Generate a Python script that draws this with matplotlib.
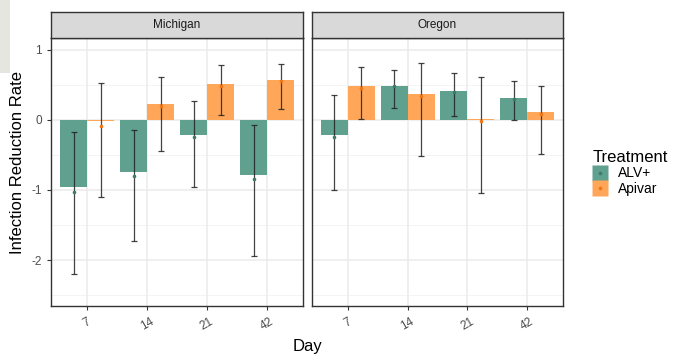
import numpy as np
import matplotlib.pyplot as plt
from matplotlib.patches import Rectangle
from matplotlib.lines import Line2D

plt.rcParams['font.family'] = ['Liberation Sans', 'DejaVu Sans']

days = ['7', '14', '21', '42']
states = ['Michigan', 'Oregon']
treatments = ['ALV+', 'Apivar']

# bar heights
bar_vals = {
    ('Michigan', 'ALV+'): [-0.96, -0.75, -0.21, -0.78],
    ('Michigan', 'Apivar'): [-0.02, 0.23, 0.52, 0.57],
    ('Oregon', 'ALV+'): [-0.22, 0.49, 0.41, 0.32],
    ('Oregon', 'Apivar'): [0.48, 0.37, 0.02, 0.11],
}
# point estimates
point_vals = {
    ('Michigan', 'ALV+'): [-1.03, -0.80, -0.25, -0.85],
    ('Michigan', 'Apivar'): [-0.09, 0.20, 0.49, 0.55],
    ('Oregon', 'ALV+'): [-0.25, 0.48, 0.40, 0.30],
    ('Oregon', 'Apivar'): [0.46, 0.34, -0.01, 0.08],
}
err_low = {
    ('Michigan', 'ALV+'): [-2.20, -1.73, -0.96, -1.94],
    ('Michigan', 'Apivar'): [-1.10, -0.45, 0.07, 0.15],
    ('Oregon', 'ALV+'): [-1.00, 0.17, 0.05, 0.00],
    ('Oregon', 'Apivar'): [0.02, -0.51, -1.04, -0.49],
}
err_high = {
    ('Michigan', 'ALV+'): [-0.17, -0.15, 0.27, -0.07],
    ('Michigan', 'Apivar'): [0.53, 0.62, 0.78, 0.80],
    ('Oregon', 'ALV+'): [0.35, 0.72, 0.67, 0.55],
    ('Oregon', 'Apivar'): [0.76, 0.81, 0.62, 0.49],
}

bar_colors = {'ALV+': '#60A08E', 'Apivar': '#FFA659'}
pt_colors = {'ALV+': '#3D7A68', 'Apivar': '#F27410'}

W, H = 683, 354
fig = plt.figure(figsize=(W / 100, H / 100), dpi=100)

# light grey strip from the screenshot edge
fig.patches.append(Rectangle((0, 1 - 73 / H), 10 / W, 73 / H, transform=fig.transFigure,
                             facecolor='#E6E6E0', edgecolor='none', zorder=0))

panels = [(51, 303), (312, 563)]
top, bottom = 38, 306
strip_top = 12
x = np.arange(len(days))
bw = 0.45

for i, st in enumerate(states):
    x0, x1 = panels[i]
    ax = fig.add_axes([x0 / W, (H - bottom) / H, (x1 - x0) / W, (bottom - top) / H])
    ax.set_facecolor('white')
    for y in [-2, -1, 0, 1]:
        ax.axhline(y, color='#EBEBEB', lw=1.1, zorder=0)
    for y in [-2.5, -1.5, -0.5, 0.5]:
        ax.axhline(y, color='#F2F2F2', lw=0.6, zorder=0)
    for xx in x:
        ax.axvline(xx, color='#EBEBEB', lw=1.1, zorder=0)

    for j, tr in enumerate(treatments):
        off = (j - 0.5) * bw
        xs = x + off
        ax.bar(xs, bar_vals[(st, tr)], width=bw, color=bar_colors[tr], edgecolor='none', zorder=2)
        pts = np.array(point_vals[(st, tr)])
        lo = pts - np.array(err_low[(st, tr)])
        hi = np.array(err_high[(st, tr)]) - pts
        ax.errorbar(xs, pts, yerr=[lo, hi], fmt='none', ecolor='#222222', alpha=0.85,
                    elinewidth=0.9, capsize=2.3, capthick=0.9, zorder=3)
        ax.plot(xs, pts, 'o', color=pt_colors[tr], ms=2.6, mec='none', zorder=4)

    ax.set_xlim(-0.6, 3.6)
    ax.set_ylim(-2.657, 1.171)
    ax.set_xticks(x)
    ax.set_xticklabels(days, rotation=30, color='#4D4D4D', fontsize=8.5)
    ax.set_yticks([-2, -1, 0, 1])
    if i == 0:
        ax.set_yticklabels(['-2', '-1', '0', '1'], color='#4D4D4D', fontsize=8.5)
        ax.tick_params(axis='y', length=3, color='#333333', width=0.8)
    else:
        ax.tick_params(axis='y', length=0, labelleft=False)
    ax.tick_params(axis='x', length=3, color='#333333', width=0.8, pad=4)
    for s in ax.spines.values():
        s.set_color('#333333')
        s.set_linewidth(1.0)

    # facet strip
    sax = fig.add_axes([x0 / W, (H - top) / H, (x1 - x0) / W, (top - strip_top) / H])
    sax.set_facecolor('#D9D9D9')
    sax.set_xticks([])
    sax.set_yticks([])
    for s in sax.spines.values():
        s.set_color('#333333')
        s.set_linewidth(1.0)
    sax.text(0.5, 0.5, st, ha='center', va='center', fontsize=8.5, color='#1A1A1A',
             transform=sax.transAxes)

fig.text(18 / W, 1 - 163 / H, 'Infection Reduction Rate', rotation=90, ha='center',
         va='center', fontsize=12)
fig.text(307 / W, 1 - 346 / H, 'Day', ha='center', va='center', fontsize=12)

# legend: square key with a dot on top
handles = []
for tr in treatments:
    sq = Line2D([0], [0], marker='s', ls='none', markersize=12,
                markerfacecolor=bar_colors[tr], markeredgecolor='none')
    dot = Line2D([0], [0], marker='o', ls='none', markersize=2.6,
                 markerfacecolor=pt_colors[tr], markeredgecolor='none')
    handles.append((sq, dot))
leg = fig.legend(handles, treatments, title='Treatment', loc='upper left',
                 bbox_to_anchor=(583 / W, 1 - 140 / H), frameon=False, fontsize=10,
                 title_fontsize=12, handlelength=1.1, handletextpad=0.7,
                 labelspacing=0.12, borderpad=0.2)
leg._legend_box.align = 'left'

fig.savefig('out.png', dpi=100)
